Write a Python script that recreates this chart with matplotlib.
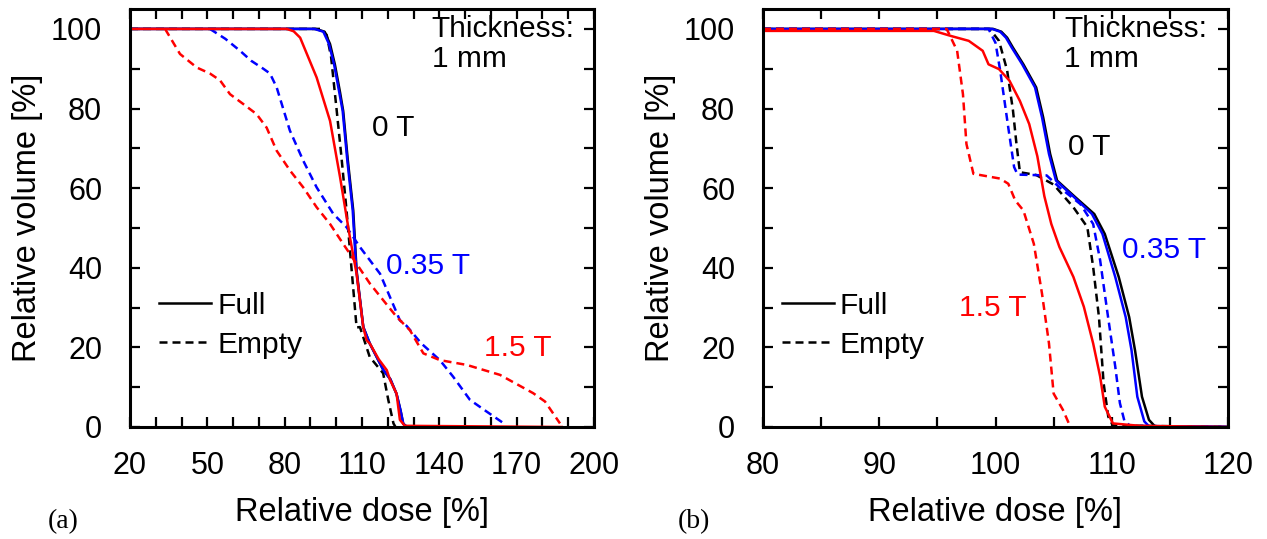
import numpy as np
import matplotlib
matplotlib.use("Agg")
import matplotlib.pyplot as plt
from matplotlib.lines import Line2D
from matplotlib.ticker import MultipleLocator, FixedLocator

plt.rcParams['font.family'] = ['Liberation Sans', 'DejaVu Sans']

# ---------------- data: panel (a), thickness 1 mm, dose 20-200 % ----------------
a_0T_full_x = [20, 92.0, 95.5, 97.6, 99.5, 101.5, 102.7, 104.5, 106.6, 107.9, 110.5, 113.0, 118.3, 121.0, 123.4, 125.0, 126.0, 127.5]
a_0T_full_y = [100, 100, 99.3, 96.2, 91.0, 84.0, 79.4, 67.0, 54.4, 39.3, 25.1, 21.0, 14.3, 12.0, 8.3, 4.0, 0.8, 0]

a_0T_empty_x = [20, 94.0, 96.3, 98.0, 100.2, 102.0, 104.0, 106.0, 107.9, 109.2, 113.0, 118.2, 120.2, 122.2, 123.0]
a_0T_empty_y = [100, 100, 98.5, 93.0, 79.4, 68.0, 54.4, 39.3, 25.0, 25.1, 17.6, 13.5, 6.8, 0.9, 0]

a_035T_full_x = [20, 91.5, 95.0, 97.2, 99.2, 101.2, 102.5, 104.3, 106.4, 107.8, 110.5, 113.0, 118.3, 121.0, 123.4, 125.0, 126.0, 127.5]
a_035T_full_y = [100, 100, 99.3, 96.2, 91.0, 84.0, 79.4, 67.0, 54.4, 39.3, 25.1, 21.0, 14.3, 12.0, 8.3, 4.0, 0.8, 0]

a_035T_empty_x = [51.0, 57.0, 62.7, 67.0, 71.7, 74.3, 76.9, 82.0, 87.2, 92.4, 98.9, 104.0, 109.2, 117.0, 124.7, 127.3, 133.0, 140.2, 145.4, 151.9, 158.3, 164.8]
a_035T_empty_y = [100, 97.5, 94.5, 92.0, 90.0, 88.8, 85.3, 74.5, 66.9, 60.2, 53.5, 50.2, 45.2, 38.5, 26.8, 25.4, 21.0, 16.8, 12.6, 6.8, 3.9, 1.0]

a_15T_full_x = [20, 80.8, 83.5, 86.0, 92.4, 97.6, 101.5, 105.3, 107.9, 110.5, 111.8, 113.1, 116.5, 119.6, 120.9, 123.4, 124.7, 126.6, 187.5]
a_15T_full_y = [100, 100, 99.4, 97.8, 87.8, 76.9, 62.7, 47.7, 38.5, 25.0, 21.8, 20.9, 17.0, 14.3, 11.8, 8.4, 1.8, 0.3, 0]

a_15T_empty_x = [33.6, 39.4, 45.9, 51.0, 54.9, 58.8, 64.0, 69.1, 73.0, 76.9, 82.1, 87.2, 92.4, 97.6, 102.7, 107.9, 113.1, 118.3, 123.4, 128.6, 133.8, 140.2, 150.6, 163.5, 176.4, 181.0, 186.8]
a_15T_empty_y = [100, 93.7, 90.3, 88.8, 87.1, 83.6, 81.1, 78.6, 75.2, 69.4, 64.4, 60.2, 55.2, 51.0, 46.0, 41.0, 36.0, 31.8, 27.7, 24.3, 18.5, 16.8, 15.6, 13.1, 8.5, 6.4, 0.9]

a_xticks = [20, 50, 80, 110, 140, 170, 200]

# ---------------- data: panel (b), dose 80-120 % ----------------
b_0T_full_x = [80, 99.8, 100.5, 101.0, 101.5, 102.4, 103.5, 104.1, 104.7, 105.3, 106.8, 108.5, 109.4, 110.6, 111.5, 112.0, 112.6, 113.2, 113.7, 120]
b_0T_full_y = [100, 100, 99.3, 97.8, 95.3, 91.1, 85.3, 77.8, 68.6, 61.9, 57.9, 53.5, 48.5, 37.7, 27.6, 19.3, 7.6, 1.8, 0.2, 0]

b_0T_empty_x = [80, 99.5, 100.3, 101.0, 101.5, 101.8, 102.1, 103.5, 105.0, 106.7, 107.9, 108.4, 108.9, 109.3, 109.7, 110.1, 120]
b_0T_empty_y = [100, 100, 97.0, 89.6, 79.6, 71.2, 64.0, 63.3, 60.9, 55.2, 50.2, 40.2, 27.6, 11.0, 2.6, 0.4, 0]

b_035T_full_x = [80, 99.7, 100.4, 100.9, 101.4, 102.3, 103.4, 104.0, 104.6, 105.2, 106.7, 108.3, 109.2, 110.3, 111.2, 111.7, 112.2, 112.8, 113.2, 120]
b_035T_full_y = [100, 100, 99.3, 97.8, 95.3, 91.1, 85.3, 77.8, 68.6, 61.9, 57.9, 53.5, 48.5, 37.7, 27.6, 19.3, 7.6, 1.4, 0.2, 0]

b_035T_empty_x = [80, 99.4, 100.0, 100.4, 101.1, 101.6, 101.9, 104.4, 105.5, 107.3, 108.4, 109.0, 109.6, 110.3, 110.7, 111.1, 111.6, 120]
b_035T_empty_y = [100, 100, 96.5, 89.6, 75.2, 65.3, 63.4, 63.2, 60.2, 56.0, 51.0, 41.9, 29.3, 15.2, 6.0, 1.4, 0.3, 0]

b_15T_full_x = [80, 94.7, 96.2, 97.7, 98.9, 99.4, 100.3, 101.2, 102.1, 102.9, 103.6, 104.2, 104.8, 105.5, 106.7, 107.6, 108.4, 109.0, 109.4, 110.1, 112.4, 120]
b_15T_full_y = [99.5, 99.5, 98.2, 97.0, 94.5, 91.1, 89.9, 87.0, 81.9, 76.1, 68.0, 58.0, 51.0, 45.2, 37.7, 30.2, 21.0, 12.7, 5.1, 0.9, 0.3, 0]

b_15T_empty_x = [80, 95.8, 96.7, 97.2, 97.5, 98.1, 100.4, 101.1, 101.7, 102.4, 103.3, 104.0, 104.6, 105.0, 105.8, 106.4]
b_15T_empty_y = [100, 100, 94.5, 83.6, 71.1, 63.6, 62.4, 61.1, 56.9, 54.4, 46.0, 33.5, 21.0, 8.4, 4.3, 0.3]

b_xticks = [80, 90, 100, 110, 120]

LW = 1.8
DASH = (0, (3.2, 2.0))
TICK_FS = 22
LABEL_FS = 23.5
NOTE_FS = 21.5


def style_axes(ax, xmin, xmax, xticks, xminor, legend_x):
    ax.set_xlim(xmin, xmax)
    ax.set_ylim(0, 105)
    ax.xaxis.set_major_locator(FixedLocator(xticks))
    ax.xaxis.set_minor_locator(MultipleLocator(xminor))
    ax.yaxis.set_major_locator(MultipleLocator(20))
    ax.yaxis.set_minor_locator(MultipleLocator(10))
    ax.tick_params(which='both', direction='in', top=True, right=True,
                   length=7, width=1.6, labelsize=TICK_FS)
    ax.tick_params(axis='x', which='major', pad=17)
    ax.tick_params(axis='y', which='major', pad=20)
    for s in ax.spines.values():
        s.set_linewidth(2.2)
    ax.set_xlabel("Relative dose [%]", fontsize=LABEL_FS, labelpad=12)
    ax.set_ylabel("Relative volume [%]", fontsize=LABEL_FS, labelpad=6)
    handles = [Line2D([], [], color='black', lw=LW),
               Line2D([], [], color='black', lw=LW, linestyle=DASH)]
    ax.legend(handles, ["Full", "Empty"], loc='lower left',
              bbox_to_anchor=(legend_x, 0.099), frameon=False, fontsize=NOTE_FS,
              handlelength=1.75, handletextpad=0.2, labelspacing=0.37)


fig = plt.figure(figsize=(12.67, 5.39), dpi=100)
ax1 = fig.add_axes([130 / 1267, 112 / 539, 464 / 1267, 418 / 539])
ax2 = fig.add_axes([763 / 1267, 112 / 539, 465 / 1267, 418 / 539])

# panel (a)
ax1.plot(a_0T_full_x, a_0T_full_y, color='black', lw=LW)
ax1.plot(a_0T_empty_x, a_0T_empty_y, color='black', lw=LW, linestyle=DASH)
ax1.plot(a_035T_full_x, a_035T_full_y, color='blue', lw=LW)
ax1.plot(a_035T_empty_x, a_035T_empty_y, color='blue', lw=LW, linestyle=DASH)
ax1.plot(a_15T_full_x, a_15T_full_y, color='red', lw=LW)
ax1.plot(a_15T_empty_x, a_15T_empty_y, color='red', lw=LW, linestyle=DASH)
style_axes(ax1, 20, 200, a_xticks, 10, 0.005)
ax1.text(113.9, 75, "0 T", color='black', fontsize=NOTE_FS, va='center')
ax1.text(119.3, 40.4, "0.35 T", color='blue', fontsize=NOTE_FS, va='center')
ax1.text(157.3, 19.8, "1.5 T", color='red', fontsize=NOTE_FS, va='center')
ax1.text(137, 103.5, "Thickness:\n1 mm", color='black', fontsize=NOTE_FS, va='top',
         linespacing=1.1)

# panel (b)
ax2.plot(b_0T_full_x, b_0T_full_y, color='black', lw=LW)
ax2.plot(b_0T_empty_x, b_0T_empty_y, color='black', lw=LW, linestyle=DASH)
ax2.plot(b_035T_full_x, b_035T_full_y, color='blue', lw=LW)
ax2.plot(b_035T_empty_x, b_035T_empty_y, color='blue', lw=LW, linestyle=DASH)
ax2.plot(b_15T_full_x, b_15T_full_y, color='red', lw=LW)
ax2.plot(b_15T_empty_x, b_15T_empty_y, color='red', lw=LW, linestyle=DASH)
style_axes(ax2, 80, 120, b_xticks, 5, -0.018)
ax2.text(106.2, 70.4, "0 T", color='black', fontsize=NOTE_FS, va='center')
ax2.text(110.9, 44.4, "0.35 T", color='blue', fontsize=NOTE_FS, va='center')
ax2.text(96.9, 29.8, "1.5 T", color='red', fontsize=NOTE_FS, va='center')
ax2.text(105.9, 103.5, "Thickness:\n1 mm", color='black', fontsize=NOTE_FS, va='top',
         linespacing=1.1)

fig.text(48 / 1267, 1 - 522 / 539, "(a)", fontsize=20, va='center',
         family=['Liberation Serif', 'DejaVu Serif'])
fig.text(678 / 1267, 1 - 522 / 539, "(b)", fontsize=20, va='center',
         family=['Liberation Serif', 'DejaVu Serif'])

fig.savefig("out.png", dpi=100)
